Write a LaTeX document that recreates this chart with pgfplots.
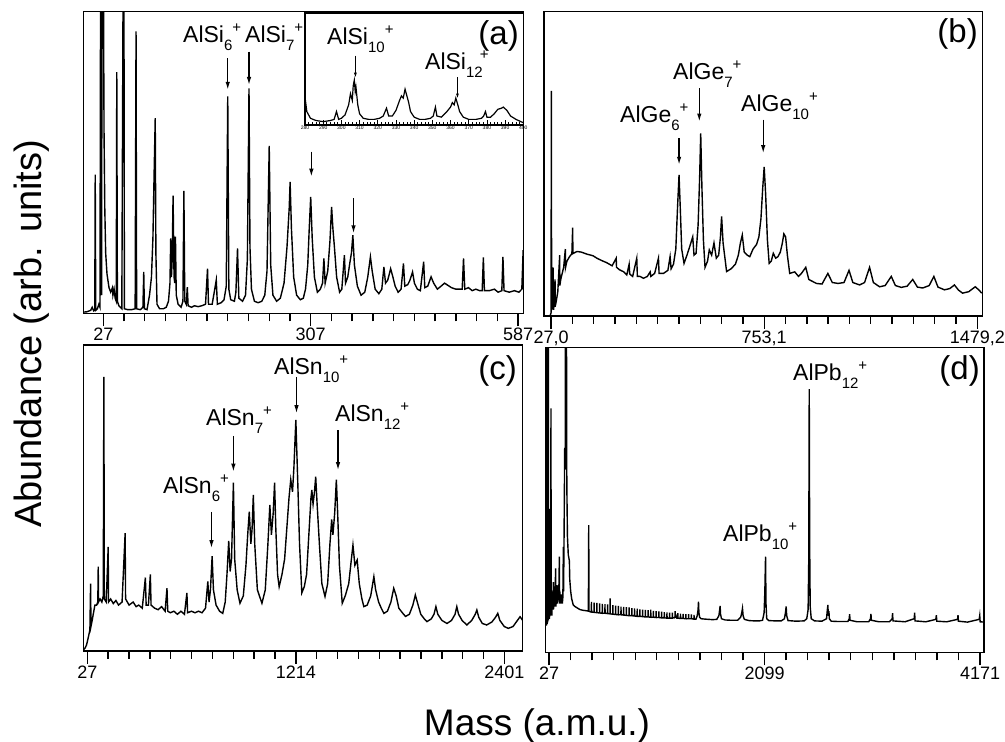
\documentclass[border=0pt]{standalone}
\usepackage{fontspec}
\setmainfont{Liberation Sans}
\usepackage{pgfplots}
\pgfplotsset{compat=1.18}
\usetikzlibrary{arrows.meta}

% ion label: name, subscript, superscript
\newcommand{\ion}[3]{#1\raisebox{-8pt}{\fontsize{15}{15}\selectfont #2}\raisebox{10pt}{\fontsize{15}{15}\selectfont #3}}
\newcommand{\lfont}{\fontsize{23}{23}\selectfont}

\pgfplotsset{
  panel/.style={
    scale only axis, anchor=south west,
    ymin=0, ymax=100, ytick=\empty,
    axis line style={line width=1.5pt},
    xtick pos=bottom, tick align=outside,
    major tick length=13pt, minor tick length=8pt,
    xtick style={draw=black, line width=1.4pt},
    minor x tick num=9,
    ticklabel style={font=\fontsize{18}{18}\selectfont},
    xticklabel style={yshift=2pt},
    /pgf/number format/assume math mode=true,
    cycle list={{black, line width=1.4pt, no markers}},
  },
  spec/.style={black, line width=1.4pt, no markers},
}
\tikzset{arr/.style={line width=1.3pt, -{Latex[length=8pt,width=4.5pt]}}}

\begin{document}
\begin{tikzpicture}
\useasboundingbox (0pt,0pt) rectangle (1005pt,742pt);

% ---------- (a) AlSi ----------
\begin{axis}[panel, at={(83.3pt,428.7pt)}, width=440pt, height=301.6pt,
  xmin=0, xmax=594, xtick={27,307,587}, xticklabels={27,307,587}]
\addplot[spec] coordinates {(0.6,0.4)(5,0.5)(10,1)(12,2)(14,0.8)(15.5,1)(16.1,46)(16.8,1)(19,1.5)(21,3)(22.5,2)(23.4,120)(24,8)(24.7,6)(25.3,120)(26,120)(27,120)(28,60)(29,35)(30.2,20)(32,13)(34.7,8.5)(37,7)(39.3,8.5)(40,6)(41.6,8)(43,5)(44.5,4)(45.2,80)(46,4)(48,2.5)(50,2)(52,1.5)(53.9,120)(54.8,120)(55.5,1.5)(60,1.2)(65,1.2)(70,1.5)(71.2,93.5)(72,1.5)(77,1.2)(80.5,2)(81.6,13.7)(82.5,1.5)(86,1.2)(89.4,6)(92,12)(94,25)(95.5,45)(97.1,64.7)(98,20)(99.5,3)(103,1.5)(108,1.5)(112,2)(115,4)(117,10)(118,24.8)(119,12)(120,18)(121.2,39)(122.5,12)(123.5,10)(124.4,25.4)(125.5,6)(128,3)(132,2)(134.5,4)(135.8,40.6)(137,4)(139,3)(140.4,8.7)(141.5,2.5)(146,2)(150,2.5)(155,2.2)(160,2.5)(165,3)(167.7,14.8)(169,3)(174,3)(179.5,11)(181,3)(186,3.5)(190,4.5)(193,9)(195,71.9)(196.5,8)(199,4.5)(204,4)(206,7)(208.2,21.5)(210,5)(215,4)(219,6)(221.5,18)(223.7,74.6)(225,22)(227,8)(231,4)(236,3.5)(241,4)(245,6)(248,14)(251,55.5)(253,16)(256,6)(261,4)(266,5)(271,10)(275,22)(278,35)(279.2,43.6)(281,28)(284,12)(288,6)(293,4.5)(297,5)(300,8)(303,16)(305,28)(307,38.6)(309,25)(312,12)(316,7)(320,8)(323,10)(324.8,18.2)(326.5,10)(330,14)(333,24)(335.2,35.3)(337,28)(339,22)(342,12)(346,7)(349,8)(352.5,19.3)(354,10)(357,12)(360,17)(362,20)(363.9,25.9)(366,16)(370,9)(375,6)(380,7)(384,12)(387.6,18.7)(390,14)(394,8)(399,6.5)(403,8)(405.8,15.4)(408,10)(411,11)(414.9,14.8)(418,12)(421,9)(425,7)(429,8)(432.2,16.5)(434,9)(438,9.5)(441,11)(444.5,13.7)(447,10)(451,8)(455,7.5)(459.5,17.1)(461,8.5)(465,9)(469.5,12.1)(473,10)(478,8)(483,9)(487.7,10)(492,9.3)(497,8.5)(503,8)(508,8)(511.5,8)(513.3,18.2)(515,8)(520,8.5)(525,7.5)(530,8)(535,7.5)(538.5,7.5)(540.1,18.5)(541.5,7.5)(548,7.5)(555,8)(560,7)(565,7.5)(566.5,18.7)(568,7.5)(575,7)(582,7.5)(588,7)(592,8)(593.8,20.9)(594.5,8)};
\draw[arr] (axis cs:195,84.6) -- (axis cs:195,74.1);
\draw[arr] (axis cs:223.7,86.8) -- (axis cs:223.7,75.7);
\draw[arr] (axis cs:307.9,53.6) -- (axis cs:307.9,45.3);
\draw[arr] (axis cs:364.8,38.1) -- (axis cs:364.8,26.5);
\end{axis}

% inset of (a)
\begin{axis}[scale only axis, anchor=south west, at={(305pt,617pt)}, width=218.3pt, height=112pt,
  xmin=280, xmax=400, ymin=0, ymax=100, ytick=\empty,
  xtick={280,290,...,400}, minor x tick num=4, xtick pos=bottom, tick align=inside,
  major tick length=5pt, minor tick length=3pt, xtick style={draw=black, line width=0.7pt},
  ticklabel style={font=\fontsize{5}{5}\selectfont, inner sep=1pt},
  /pgf/number format/assume math mode=true,
  axis background/.style={fill=white}, axis line style={line width=1.3pt}]
\addplot[black, line width=1.2pt, no markers] coordinates {(280,25)(281,12)(283,6)(286,4)(290,3)(294,4)(296,5)(297.3,12)(298.5,5)(300,6)(302,9)(304,18)(305,28)(306,22)(306.5,35)(307.1,40)(307.6,30)(308,34)(309,18)(310,10)(312,6)(315,5)(318,5)(321,6)(323,8)(324.8,15)(326,8)(328,8)(330,13)(332,22)(333,26)(334,24)(335,32)(336,26)(337,20)(338,12)(340,7)(343,5)(346,5)(349,6)(350.5,8)(351.7,16)(352.5,8)(355,7)(358,12)(360,16)(361,20)(362,18)(362.9,24)(364,18)(365,12)(367,7)(370,5)(374,5)(377,6)(378.2,8)(379.2,12)(380,7)(382,7)(384,10)(386,14)(388,15)(389,16)(391,13)(393,8)(396,5)(400,2)};
\draw[line width=0.9pt, -{Latex[length=5pt,width=3pt]}] (axis cs:307.7,62) -- (axis cs:307.7,42.2);
\draw[line width=0.9pt, -{Latex[length=5pt,width=3pt]}] (axis cs:363.8,42.8) -- (axis cs:363.8,23.6);
\end{axis}

% ---------- (b) AlGe ----------
\begin{axis}[panel, at={(544pt,426pt)}, width=438.3pt, height=304.3pt,
  xmin=3, xmax=1496, xtick={27,753.1,1479.2}, xticklabels={{27,0},{753,1},{1479,2}}]
\addplot[spec] coordinates {(24.7,0.3)(27,1)(28.1,74)(29,2)(31,3)(31.5,10)(32,3)(33.8,16)(34.5,4)(36,2)(40.6,12)(41,3)(45,5)(50,8)(56.5,20)(57,10)(60,12)(65,14)(70,16)(75.7,22)(76.5,16)(81,18)(90,19.5)(98,20.5)(100.6,29)(101.5,20.5)(115,21.2)(130,21)(150,20.3)(170,19.8)(183,19)(200,18.2)(217,17.5)(235,16.5)(249,19)(250,16)(260,15.2)(275,14.5)(285,13.5)(293,17)(295,13.8)(305,13)(319,19)(321,13)(330,13)(342,12.4)(355,13)(364.6,14.5)(367,13)(380,14)(392.9,19)(395,14)(410,14)(425,15)(432.5,19.5)(436,15.5)(444,17)(452,22)(458,36)(463,46.4)(467,36)(472,22)(480,17.3)(490,20)(500,23)(509.6,26)(514,20)(521,20.6)(528,30)(533,45)(536.8,60)(541,42)(546,25)(551.5,16)(560,18)(566,21.7)(574,20)(582,24)(590,19)(598,20)(604,26)(608,32.7)(613,24)(625,14.6)(640,15.5)(655,17)(665,20)(672,24)(678.4,26.6)(685,21)(695,20)(704,19.5)(715,22)(727,23.5)(735,26)(742,32)(748,42)(753,49)(758,40)(764,25)(770,17.3)(777,18)(784,20.6)(792,19)(800,19.5)(808,21)(815,24)(820,27)(826,26)(832,20)(840,14)(857,14.5)(870,13)(880,14)(894.7,16)(905,12)(931,10.7)(950,10.5)(970,14)(985,11)(1005,10.7)(1025,11)(1042,15)(1055,11)(1078,10.2)(1095,11)(1112,16)(1125,11)(1146,9.6)(1165,10)(1186,13)(1200,10)(1220,9.4)(1240,9.8)(1259,12)(1275,9.5)(1293,9.2)(1315,10)(1331,13)(1345,9.5)(1367,8.6)(1385,9)(1401,10.2)(1415,8.5)(1429,7.5)(1450,8)(1472,9.6)(1485,8.5)(1494,7.5)};
\draw[arr] (axis cs:463.1,58.4) -- (axis cs:463.1,49.7);
\draw[arr] (axis cs:532,74.9) -- (axis cs:532,63.9);
\draw[arr] (axis cs:749.7,64.5) -- (axis cs:749.7,53.5);
\end{axis}

% ---------- (c) AlSn ----------
\begin{axis}[panel, at={(83.3pt,91pt)}, width=439.4pt, height=306pt,
  xmin=4.4, xmax=2505, xtick={27,1214,2401}, xticklabels={27,1214,2401}]
\addplot[spec] coordinates {(4.3,0.3)(15,1)(23,2)(35,5)(42,7)(45.9,22)(48,8)(55,10)(61,12)(70.5,15)(80,15)(87,16)(89.4,27.6)(91,16)(100,17)(110,16)(118,18)(121.5,89.6)(124,17)(135,16)(146,34)(148,16)(160,17)(175,15.5)(190,16.5)(205,15)(225,16)(242.5,38.5)(245,17)(265,15)(288,16)(305,14.5)(320,15)(340,14)(357.8,24)(362,15)(375,15)(386,25)(390,15)(410,14)(430,13.5)(450,14.5)(470,13)(480.6,20.5)(485,13)(500,12.5)(520,13)(540,12)(560,13)(580,12)(594,19)(598,12.5)(620,13)(640,12.5)(660,13)(680,12.5)(700,14)(713,22.7)(720,16)(728,20)(737.6,31)(745,20)(760,15)(780,13)(798,12.3)(812,16)(822,25)(832,36)(840,26)(848,30)(858.6,55)(866,30)(880,20)(896,15.6)(915,18)(930,28)(940,38)(949,45.5)(958,35)(965,40)(972,51)(980,35)(995,20)(1021,15.6)(1040,20)(1055,35)(1066,47.7)(1075,38)(1085,45)(1093,55)(1100,40)(1110,25)(1119,21)(1135,25)(1150,30)(1165,42)(1175,50)(1185,56)(1195,52)(1203,60)(1214,75.5)(1225,55)(1235,35)(1248,19)(1262,21)(1275,25)(1290,40)(1300,50)(1305,52.6)(1312,48)(1320,52)(1327,57)(1335,48)(1348,35)(1362,22)(1380,17.8)(1395,22)(1408,35)(1418,43)(1425,38)(1435,45)(1444.5,56)(1452,45)(1462,28)(1478,15.6)(1495,18)(1515,22)(1530,30)(1539,34.6)(1550,28)(1563,29.7)(1575,22)(1590,17)(1601,14.5)(1620,15)(1640,18)(1658,24.3)(1668,20)(1685,16)(1700,14)(1715,12.3)(1735,13)(1755,16)(1771,20.5)(1785,18)(1800,14)(1820,12.5)(1838,11.3)(1860,12)(1880,15)(1894,18.3)(1905,16)(1925,12)(1945,10.5)(1960,9.6)(1985,10.5)(2000,12)(2011,14.5)(2022,12)(2045,10)(2074,9)(2100,10)(2120,12)(2130,14.5)(2140,12)(2160,10)(2187,8.5)(2215,10)(2235,12)(2244,13.4)(2255,11)(2275,9)(2300,8.5)(2330,9.5)(2350,11)(2363,12.3)(2375,10)(2400,8)(2423,7.4)(2450,8)(2475,10)(2490,11.2)(2505,10)};
\draw[arr] (axis cs:733.9,45.5) -- (axis cs:733.9,33.6);
\draw[arr] (axis cs:858.6,70.3) -- (axis cs:858.6,58.6);
\draw[arr] (axis cs:1217.7,89.6) -- (axis cs:1217.7,77.7);
\draw[arr] (axis cs:1454,72.2) -- (axis cs:1454,59.1);
\end{axis}

% ---------- (d) AlPb ----------
\begin{axis}[panel, at={(545.7pt,89.7pt)}, width=438.3pt, height=305pt,
  xmin=-5, xmax=4209, xtick={27,2099,4171}, xticklabels={27,2099,4171}]
\addplot[spec] coordinates {(-5,9)(3,9)(4.5,120)(6,9.5)(10,9.5)(11,120)(12,10)(15,10)(20,120)(21,10.5)(25,12)(30,47)(31,11)(35,14)(40,12)(46,80)(47,13)(52,16)(55,12)(58,20)(60,14)(65,17)(68.7,23)(70,14)(75,18)(80,15)(85,20)(91,27.5)(92,15)(98,17)(104,22)(108,16)(115,20)(120,17)(126.4,31.4)(128,16)(135,18)(140,16)(148,19)(155,16)(160,18)(164.9,34.6)(167,20)(172,40)(177.7,67)(182,60)(186,120)(194,120)(198,55)(204,38)(212,32)(222.7,30)(226,24)(235,20)(245,17.5)(260,15.5)(277,15)(300,14.5)(325,14)(350,13.8)(389,13.6)(405,13.5)(408.7,41.7)(411,13.5)(420,13.3)
(434,13.2)(435,16.5)(436,13.2)(460,13.1)(461,16.3)(462,13.1)(486,13.0)(487,16.2)(488,13.0)(512,12.9)(513,16.0)(514,12.9)(538,12.8)(539,15.9)(540,12.8)(564,12.8)(565,15.8)(566,12.8)(590,12.7)(591,15.7)(592,12.7)(614,12.6)(615,17.7)(616,12.6)(640,12.5)(641,15.5)(642,12.5)(666,12.4)(667,15.3)(668,12.4)(692,12.3)(693,15.2)(694,12.3)(718,12.3)(719,15.0)(720,12.3)(744,12.2)(745,14.9)(746,12.2)(770,12.1)(771,14.8)(772,12.1)(796,12.0)(797,14.7)(798,12.0)(822,12.0)(823,14.5)(824,12.0)(848,11.9)(849,14.4)(850,11.9)(874,11.8)(875,14.3)(876,11.8)(900,11.8)(901,14.1)(902,11.8)(926,11.7)(927,14.0)(928,11.7)(952,11.6)(953,13.9)(954,11.6)(978,11.6)(979,13.8)(980,11.6)(1004,11.5)(1005,14.0)(1006,11.5)(1030,11.5)(1031,13.6)(1032,11.5)(1056,11.4)(1057,13.5)(1058,11.4)(1082,11.4)(1083,13.4)(1084,11.4)(1108,11.3)(1109,13.3)(1110,11.3)(1134,11.3)(1135,13.2)(1136,11.3)(1160,11.2)(1161,13.1)(1162,11.2)(1186,11.2)(1187,13.0)(1188,11.2)(1212,11.2)(1213,13.0)(1214,11.2)(1238,11.5)(1239,13.5)(1240,11.6)(1248,12)(1256,11.2)(1264,11.2)(1265,12.8)(1266,11.2)(1290,11.1)(1291,12.7)(1292,11.1)(1316,11.1)(1317,12.6)(1318,11.1)(1342,11.0)(1343,12.5)(1344,11.0)(1368,11.0)(1369,12.5)(1370,11.0)(1394,11.0)(1395,12.4)(1396,11.0)(1420,10.9)(1421,12.3)(1422,10.9)
(1440,10.9)(1452,12)(1460,14)(1464,16.6)(1468,13)(1475,11.5)(1490,11)(1520,10.9)(1560,10.8)(1600,10.7)(1640,10.8)(1660,12)(1668,14)(1672,15.2)(1676,12.5)(1685,11)(1720,10.6)(1780,10.5)(1840,10.5)(1870,11.5)(1880,13)(1887,14.4)(1893,12)(1905,10.8)(1950,10.4)(2000,10.3)(2050,10.3)(2080,10.5)(2095,13)(2102,20)(2108.6,31.4)(2113,16)(2120,11)(2140,10.4)(2200,10.3)(2260,10.3)(2290,11)(2300,13)(2307,15)(2312,12)(2325,10.4)(2400,10.2)(2480,10.3)(2505,11)(2518,14)(2524,30)(2528.8,86.3)(2533,35)(2538,15)(2548,11)(2580,10.3)(2650,10.2)(2695,11)(2703,14)(2708,15.5)(2712,12)(2718,13.5)(2722,11)(2740,10.2)(2800,10.1)(2900,10.1)(2913,11)(2917,12.5)(2921,10.5)(2990,10)(3100,10)(3118,11)(3122,12.6)(3126,10.5)(3200,10)(3300,10)(3326,11)(3330,12.8)(3334,10.3)(3450,10)(3538,11)(3542,13)(3546,10.3)(3650,10)(3746,10.8)(3751,12.2)(3755,10.2)(3850,10)(3955,10.8)(3959,12.2)(3963,10.2)(4050,9.9)(4163,10.8)(4168,12)(4172,10)(4209,9.9)};
\end{axis}

% ---------- labels ----------
\node[anchor=base west, inner sep=0] at (183pt,699pt) {\lfont\ion{AlSi}{6}{+}};
\node[anchor=base west, inner sep=0] at (245pt,699pt) {\lfont\ion{AlSi}{7}{+}};
\node[anchor=base west, inner sep=0] at (327pt,697pt) {\lfont\ion{AlSi}{10}{+}};
\node[anchor=base west, inner sep=0] at (425pt,672pt) {\lfont\ion{AlSi}{12}{\hspace{-3pt}+}};
\node[anchor=base east, inner sep=0] at (519pt,697pt) {\fontsize{33}{33}\selectfont (a)};

\node[anchor=base west, inner sep=0] at (620pt,619pt) {\lfont\ion{AlGe}{6}{+}};
\node[anchor=base west, inner sep=0] at (673pt,662pt) {\lfont\ion{AlGe}{7}{+}};
\node[anchor=base west, inner sep=0] at (741pt,630pt) {\lfont\ion{AlGe}{10}{+}};
\node[anchor=base east, inner sep=0] at (978pt,699pt) {\fontsize{33}{33}\selectfont (b)};

\node[anchor=base west, inner sep=0] at (163pt,248pt) {\lfont\ion{AlSn}{6}{+}};
\node[anchor=base west, inner sep=0] at (206pt,316pt) {\lfont\ion{AlSn}{7}{+}};
\node[anchor=base west, inner sep=0] at (274pt,367pt) {\lfont\ion{AlSn}{10}{+}};
\node[anchor=base west, inner sep=0] at (335pt,320pt) {\lfont\ion{AlSn}{12}{+}};
\node[anchor=base east, inner sep=0] at (517pt,362pt) {\fontsize{33}{33}\selectfont (c)};

\node[anchor=base west, inner sep=0] at (793pt,361pt) {\lfont\ion{AlPb}{12}{+}};
\node[anchor=base west, inner sep=0] at (723pt,200pt) {\lfont\ion{AlPb}{10}{+}};
\node[anchor=base east, inner sep=0] at (980pt,362pt) {\fontsize{33}{33}\selectfont (d)};

\node[rotate=90, inner sep=0] at (32pt,408pt) {\fontsize{38}{38}\selectfont Abundance (arb. units)};
\node[anchor=base, inner sep=0] at (537pt,6pt) {\fontsize{37}{37}\selectfont Mass (a.m.u.)};
\end{tikzpicture}
\end{document}
